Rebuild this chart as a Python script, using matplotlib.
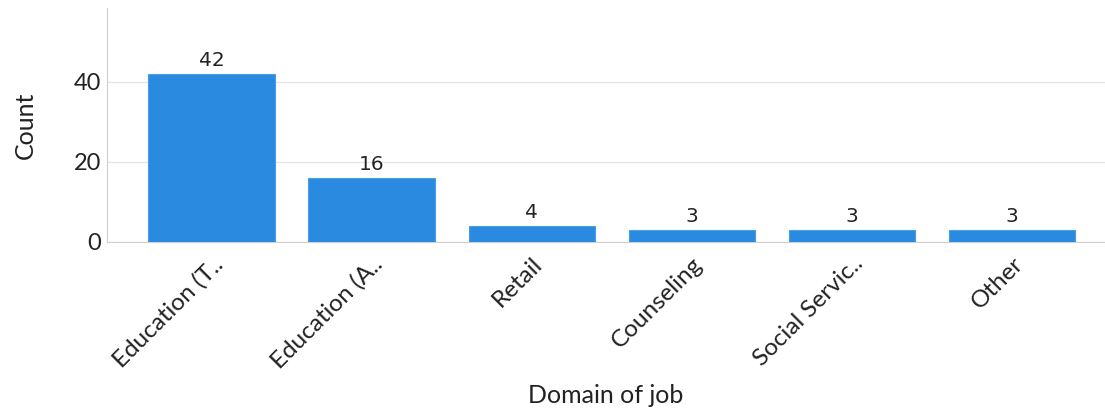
import matplotlib
matplotlib.use("Agg")
import matplotlib.pyplot as plt

categories = ["Education (T..", "Education (A..", "Retail", "Counseling", "Social Servic..", "Other"]
counts = [42, 16, 4, 3, 3, 3]
yticks = [0, 20, 40]

plt.rcParams['font.family'] = ['Lato', 'DejaVu Sans']

W, H = 1105, 413
fig = plt.figure(figsize=(W / 100, H / 100), dpi=100)
ax = fig.add_axes([107 / W, (H - 242) / H, (1105 - 107) / W, (242 - 8) / H])

x = list(range(len(categories)))
bars = ax.bar(x, counts, width=0.79, color="#2a8ae0", edgecolor="#4a9de6", linewidth=0.8, zorder=3)
for xi, c in zip(x, counts):
    ax.annotate(str(c), (xi, c), xytext=(0, 3), textcoords="offset points",
                ha="center", va="bottom", fontsize=14.5, color="#222222",
                family=["DejaVu Sans"])

ax.set_xlim(-0.653, 5.58)
ax.set_ylim(0, 58.5)
ax.set_yticks(yticks)
ax.set_yticklabels([str(v) for v in yticks], fontsize=17, color="#222222")
ax.set_xticks(x)
ax.set_xticklabels(categories, rotation=45, ha="right", rotation_mode="anchor",
                   fontsize=17.5, color="#222222")
ax.tick_params(axis="both", length=0, pad=4)
ax.tick_params(axis="x", pad=8)
ax.grid(axis="y", color="#e6e6e6", linewidth=1, zorder=0)
for s in ["top", "right"]:
    ax.spines[s].set_visible(False)
ax.spines["left"].set_color("#d0d0d0")
ax.spines["bottom"].set_color("#d0d0d0")
ax.set_ylabel("Count", fontsize=18, color="#222222", labelpad=27)
ax.set_xlabel("Domain of job", fontsize=18, color="#222222", labelpad=8)

fig.savefig("out.png", dpi=100, facecolor="white")
